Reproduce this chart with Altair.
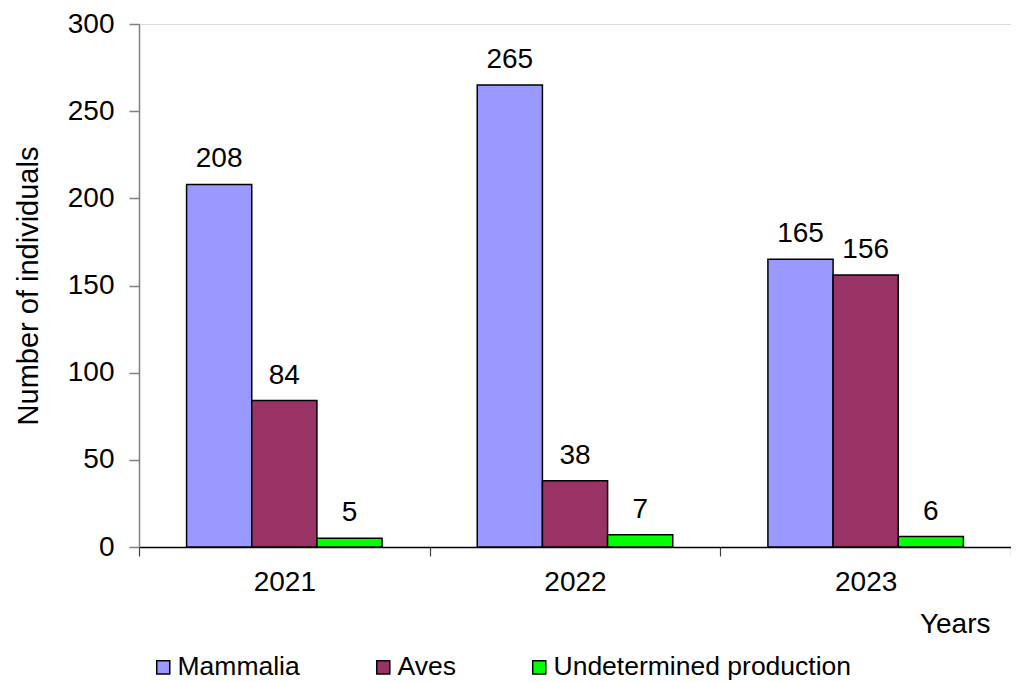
import altair as alt
import pandas as pd

years = ["2021", "2022", "2023"]
series = ["Mammalia", "Aves", "Undetermined production"]
mammalia = [208, 265, 165]
aves = [84, 38, 156]
undetermined = [5, 7, 6]
colors = ["#9999FF", "#993366", "#00FF00"]

rows = []
for i, y in enumerate(years):
    for s, vals in zip(series, [mammalia, aves, undetermined]):
        rows.append({"year": y, "series": s, "value": vals[i]})
df = pd.DataFrame(rows)

FONT = "Liberation Sans"
FS = 28

x = alt.X(
    "year:N",
    sort=years,
    scale=alt.Scale(paddingInner=0, paddingOuter=0),
    axis=alt.Axis(
        title="Years",
        labelAngle=0,
        labelFontSize=FS,
        labelFont=FONT,
        labelColor="black",
        labelPadding=12,
        labelBaseline="top",
        tickBand="extent",
        tickSize=9,
        tickColor="#404040",
        tickWidth=1.2,
        domainColor="black",
        domainWidth=1.5,
        titleFontSize=FS,
        titleFont=FONT,
        titleFontWeight="normal",
        titleColor="black",
        titleX=851,
        titleY=85,
        titleAlign="right",
        titleBaseline="alphabetic",
    ),
)
xoff = alt.XOffset(
    "series:N", sort=series, scale=alt.Scale(paddingOuter=0.73, paddingInner=0)
)
y = alt.Y(
    "value:Q",
    scale=alt.Scale(domain=[0, 300], nice=False),
    axis=alt.Axis(
        title="Number of individuals",
        values=[0, 50, 100, 150, 200, 250, 300],
        grid=False,
        labelFontSize=FS,
        labelFont=FONT,
        labelColor="black",
        labelPadding=15,
        tickSize=10,
        tickColor="#808080",
        tickWidth=1.5,
        domainColor="#808080",
        domainWidth=1.5,
        titleFontSize=29,
        titleFont=FONT,
        titleFontWeight="normal",
        titleColor="black",
        titlePadding=24,
    ),
)

bars = alt.Chart(df).mark_bar(stroke="black", strokeWidth=1.5).encode(
    x=x,
    xOffset=xoff,
    y=y,
    color=alt.Color(
        "series:N",
        sort=series,
        scale=alt.Scale(domain=series, range=colors),
        legend=alt.Legend(
            title=None,
            orient="none",
            legendX=11,
            legendY=630,
            direction="horizontal",
            symbolType="square",
            symbolSize=170,
            symbolStrokeColor="black",
            symbolStrokeWidth=1.5,
            symbolOpacity=1,
            labelFontSize=26.5,
            labelFont=FONT,
            labelColor="black",
            labelOffset=1,
            columnPadding=70,
            labelLimit=400,
        ),
    ),
)

labels = alt.Chart(df).mark_text(
    fontSize=FS, font=FONT, color="black", baseline="bottom", dy=-11
).encode(x=x, xOffset=xoff, y=y, text="value:Q")

chart = (
    alt.layer(bars, labels)
    .properties(
        width=872,
        height=523,
        autosize=alt.AutoSizeParams(type="none"),
        padding={"left": 131, "top": 16, "right": 0, "bottom": 134},
    )
    .configure_view(stroke="#808080", strokeWidth=1.5)
    .configure(background="white")
)

chart.save("out.html", embed_options={"renderer": "svg", "actions": False})
